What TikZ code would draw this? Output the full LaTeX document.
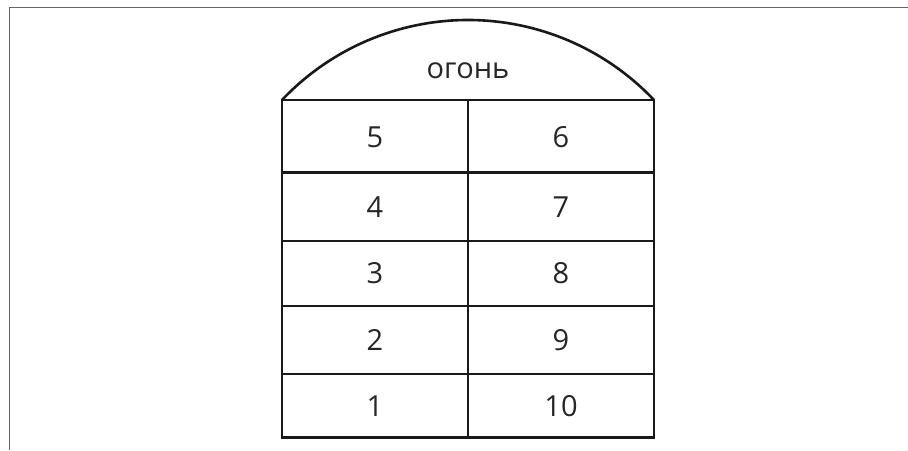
\documentclass[tikz,border=0pt]{standalone}
\usepackage{fontspec}
\setmainfont{Open Sans}
\begin{document}
\begin{tikzpicture}[x=1pt,y=1pt,
  rule/.style={line width=2.6pt,black!90},
  frameline/.style={line width=1.5pt,color=black!60},
  celltext/.style={font=\fontsize{29}{32}\selectfont,inner sep=0pt,text=black!85}]
\useasboundingbox (0,0) rectangle (908,450);
% outer frame (top and left only)
\coordinate (ftl) at (9.5,442.5);
\coordinate (ftr) at (908,442.5);
\coordinate (fbl) at (9.5,0);
\draw[frameline] (fbl) -- (ftl) -- (ftr);
% table corners
\coordinate (tl) at (282,350);
\coordinate (tr) at (654,350);
\coordinate (bl) at (282,12.5);
\coordinate (br) at (654,12.5);
\coordinate (mt) at (468,350);
\coordinate (mb) at (468,12.5);
% dome
\draw[rule] (tl) arc[start angle=136.55, end angle=43.45, radius=256.2pt];
% outline
\draw[rule,line join=miter] (tl) -- (tr) -- (br) -- (bl) -- cycle;
\draw[rule] (mt) -- (mb);
% row lines
\foreach \y/\n in {277.5/a,209/b,144/c,76/d}{
  \coordinate (l\n) at (282,\y);
  \coordinate (r\n) at (654,\y);
  \draw[rule] (l\n) -- (r\n);
}
% title
\node[celltext] (title) at (468,379) {огонь};
% cells
\node[celltext] (c5) at (375,313) {5};
\node[celltext] (c6) at (561,313) {6};
\node[celltext] (c4) at (375,243) {4};
\node[celltext] (c7) at (561,243) {7};
\node[celltext] (c3) at (375,176.5) {3};
\node[celltext] (c8) at (561,176.5) {8};
\node[celltext] (c2) at (375,110) {2};
\node[celltext] (c9) at (561,110) {9};
\node[celltext] (c1) at (375,44) {1};
\node[celltext] (c10) at (561,44) {10};
\end{tikzpicture}
\end{document}
